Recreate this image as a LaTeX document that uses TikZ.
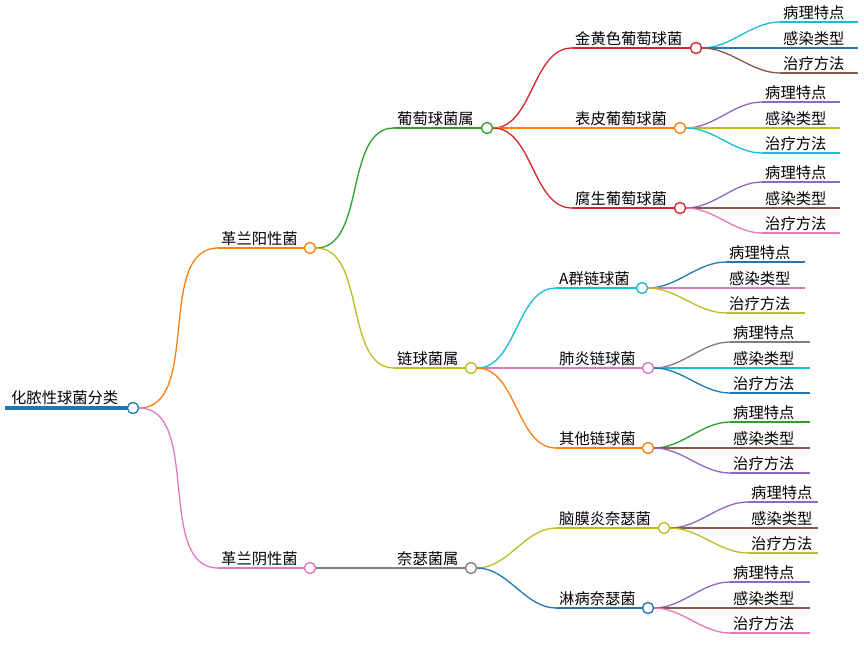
\documentclass[tikz,border=0pt]{standalone}
\usepackage{fontspec}
\setmainfont{Noto Sans CJK SC}
\definecolor{cO}{HTML}{FF7F0E}\definecolor{cP}{HTML}{E377C2}\definecolor{cG}{HTML}{2CA02C}
\definecolor{cY}{HTML}{BCBD22}\definecolor{cGr}{HTML}{7F7F7F}\definecolor{cR}{HTML}{D62728}
\definecolor{cC}{HTML}{17BECF}\definecolor{cB}{HTML}{1F77B4}\definecolor{cV}{HTML}{9467BD}
\definecolor{cBr}{HTML}{8C564B}
\tikzset{dot/.style={circle,fill=white,line width=1.2pt,minimum size=11pt,inner sep=0pt},
lbl/.style={inner sep=1pt,font=\fontsize{15.3}{17}\selectfont},
ln/.style={line width=1.3pt}}
\newcommand\mnode[6]{\coordinate (#1-s) at (#2,#4);\draw[#5,ln] (#2,#4) -- (#3,#4);
\node[lbl,anchor=south west] (#1-t) at (#2+2,#4-1) {#6};}
\newcommand\mdot[3]{\node[dot,draw=#3] (#1) at (#2) {};}
\newcommand\medge[3]{\draw[#3,ln] (#1) to[out=0,in=180,looseness=0.9] (#2-s);}
\newcommand\leaves[7]{%
\mnode{#1a}{#2}{#3}{#4-26}{#5}{病理特点}\mnode{#1b}{#2}{#3}{#4}{#6}{感染类型}\mnode{#1c}{#2}{#3}{#4+25}{#7}{治疗方法}%
\medge{#1}{#1a}{#5}\medge{#1}{#1b}{#6}\medge{#1}{#1c}{#7}}
\begin{document}
\begin{tikzpicture}[x=1pt,y=-1pt]
\useasboundingbox (0,0) rectangle (864,655);
\coordinate (root-s) at (5,408);\draw[cB,line width=4pt] (5,408)--(133,408);
\node[lbl,anchor=south west] (root-t) at (10,406) {化脓性球菌分类};
\mnode{gp}{218}{310}{248}{cO}{革兰阳性菌}
\mnode{gn}{218}{310}{568}{cP}{革兰阴性菌}
\mnode{pt}{394}{487}{128}{cG}{葡萄球菌属}
\mnode{lq}{394}{471}{368}{cY}{链球菌属}
\mnode{ns}{394}{471}{568}{cGr}{奈瑟菌属}
\mnode{jh}{572}{696}{48}{cR}{金黄色葡萄球菌}
\mnode{bp}{572}{680}{128}{cO}{表皮葡萄球菌}
\mnode{fs}{572}{680}{208}{cR}{腐生葡萄球菌}
\mnode{aq}{556}{642}{288}{cC}{A群链球菌}
\mnode{fy}{556}{648}{368}{cP}{肺炎链球菌}
\mnode{qt}{556}{648}{448}{cO}{其他链球菌}
\mnode{nm}{556}{664}{528}{cY}{脑膜炎奈瑟菌}
\mnode{lb}{556}{648}{608}{cB}{淋病奈瑟菌}
\mdot{root}{133,408}{cB}
\mdot{gp}{310,248}{cO}\mdot{gn}{310,568}{cP}
\mdot{pt}{487,128}{cG}\mdot{lq}{471,368}{cY}\mdot{ns}{471,568}{cGr}
\mdot{jh}{696,48}{cR}\mdot{bp}{680,128}{cO}\mdot{fs}{680,208}{cR}
\mdot{aq}{642,288}{cC}\mdot{fy}{648,368}{cP}\mdot{qt}{648,448}{cO}
\mdot{nm}{664,528}{cY}\mdot{lb}{648,608}{cB}
\medge{root}{gp}{cO}\medge{root}{gn}{cP}
\medge{gp}{pt}{cG}\medge{gp}{lq}{cY}\medge{gn}{ns}{cGr}
\medge{pt}{jh}{cR}\medge{pt}{bp}{cO}\medge{pt}{fs}{cR}
\medge{lq}{aq}{cC}\medge{lq}{fy}{cP}\medge{lq}{qt}{cO}
\medge{ns}{nm}{cY}\medge{ns}{lb}{cB}
\leaves{jh}{780}{858}{48}{cC}{cB}{cBr}
\leaves{bp}{762}{840}{128}{cV}{cY}{cC}
\leaves{fs}{762}{840}{208}{cV}{cBr}{cP}
\leaves{aq}{726}{805}{288}{cB}{cP}{cY}
\leaves{fy}{730}{810}{368}{cGr}{cC}{cB}
\leaves{qt}{730}{810}{448}{cG}{cBr}{cV}
\leaves{nm}{748}{818}{528}{cV}{cBr}{cY}
\leaves{lb}{730}{810}{608}{cV}{cBr}{cP}
\mdot{root}{133,408}{cB}
\mdot{gp}{310,248}{cO}\mdot{gn}{310,568}{cP}
\mdot{pt}{487,128}{cG}\mdot{lq}{471,368}{cY}\mdot{ns}{471,568}{cGr}
\mdot{jh}{696,48}{cR}\mdot{bp}{680,128}{cO}\mdot{fs}{680,208}{cR}
\mdot{aq}{642,288}{cC}\mdot{fy}{648,368}{cP}\mdot{qt}{648,448}{cO}
\mdot{nm}{664,528}{cY}\mdot{lb}{648,608}{cB}
\end{tikzpicture}
\end{document}
